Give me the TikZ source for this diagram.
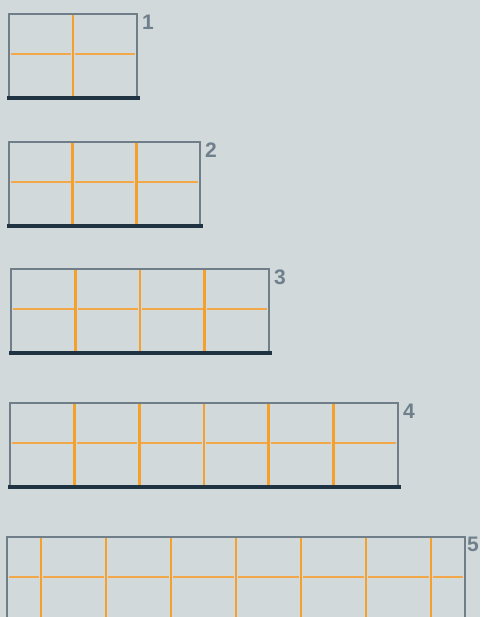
\documentclass[tikz,border=0pt]{standalone}
\usepackage{fontspec}
\setmainfont{Liberation Sans}
\definecolor{bgpaper}{HTML}{D1D9DA}
\definecolor{framegrey}{HTML}{6F7E88}
\definecolor{basenavy}{HTML}{1F3342}
\definecolor{postorange}{HTML}{F5A02A}
\definecolor{railorange}{HTML}{F2A848}
\definecolor{taggrey}{HTML}{6F7F8B}
\tikzset{
  frame/.style={draw=framegrey, line width=1.8pt},
  base/.style={draw=basenavy, line width=4pt},
  post/.style={draw=postorange, line width=2.6pt},
  rail/.style={draw=railorange, line width=2pt},
  tag/.style={anchor=north west, inner sep=0pt, text=taggrey,
    font=\fontsize{21}{21}\selectfont\bfseries},
}

\begin{document}
\begin{tikzpicture}[x=1pt,y=-1pt]
\fill[bgpaper] (0,0) rectangle (480,617);
\useasboundingbox (0,0) rectangle (480,617);

% shelves 1 to 4: left/top/right/cells/label
\foreach \l/\t/\r/\n/\name in {9/14/137/2/1, 9/142/200/3/2, 11/269/269/4/3, 10/403/398/6/4}{
  \pgfmathsetmacro\w{(\r-\l)/\n}
  \pgfmathtruncatemacro\m{\n-1}
  \foreach \k in {0,...,\m}
    \draw[rail] (\l+\k*\w+2,\t+40) -- (\l+\k*\w+\w-2,\t+40);
  \foreach \k in {1,...,\m}
    \draw[post] (\l+\k*\w,\t) -- (\l+\k*\w,\t+82);
  \draw[frame] (\l,\t+82) -- (\l,\t) -- (\r,\t) -- (\r,\t+82);
  \draw[base] (\l-2,\t+84) -- (\r+3,\t+84);
  \node[tag] (tag\name) at (\r+5,\t+1) {\name};
}

% shelf 5, cut off at the bottom
\foreach \a/\b in {7/41, 41/106, 106/171, 171/236, 236/301, 301/366, 366/431, 431/465}
  \draw[rail] (\a+2,577) -- (\b-2,577);
\foreach \x in {41,106,...,431}
  \draw[post] (\x,537) -- (\x,620);
\draw[frame] (7,620) -- (7,537) -- (465,537) -- (465,620);
\node[tag] (tag5) at (467,537) {5};
\end{tikzpicture}
\end{document}
